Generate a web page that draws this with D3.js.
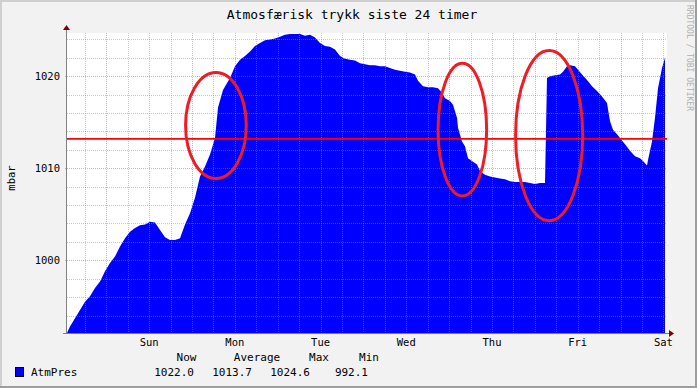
<!DOCTYPE html>
<html>
<head>
<meta charset="utf-8">
<script src="https://cdn.jsdelivr.net/npm/d3@7"></script>
<style>
  html, body { margin: 0; padding: 0; background: #f2f2f2; }
  svg { display: block; font-family: "DejaVu Sans Mono", monospace; }
</style>
</head>
<body>
<div id="chart"></div>
<script>
// Atmospheric pressure, one week, rrdtool-style area graph

// hours after the start of the graph (Sat 13:00)
const hours = [
  0, 0.84, 2.24, 3.64, 5.04, 6.44, 7.84, 9.24, 10.64, 12.04, 13.44, 14.84, 16.24, 17.64,
  19.04, 20.44, 21.84, 23.24, 24.64, 26.04, 27.44, 28.84, 30.24, 31.64, 33.04, 34.44,
  35.84, 37.24, 38.64, 40.04, 41.44, 42.28, 43.68, 45.64, 47.04, 48.44, 49.84, 51.24,
  52.64, 54.04, 55.44, 56.84, 58.24, 59.64, 61.04, 62.44, 63.84, 65.24, 66.64, 68.04,
  69.44, 70.84, 72.24, 73.64, 75.04, 76.44, 77.84, 79.24, 80.64, 82.04, 83.44, 84.84,
  86.24, 87.64, 89.04, 90.44, 91.84, 93.24, 94.64, 96.04, 97.44, 98.28, 99.68, 101.08,
  102.48, 103.88, 105.0, 105.84, 107.24, 108.08, 109.2, 109.48, 110.6, 111.44, 112.28,
  113.4, 114.8, 115.64, 117.04, 118.44, 119.84, 121.24, 122.64, 124.04, 125.44, 126.84,
  128.24, 129.64, 131.04, 132.44, 133.84, 134.4, 135.24, 136.64, 138.04, 138.88, 140.0,
  140.84, 142.24, 143.08, 144.2, 145.6, 147.0, 148.4, 149.8, 151.2, 152.04, 152.88,
  154.0, 154.84, 156.24, 157.64, 159.04, 160.44, 161.28, 162.4, 162.68, 163.8, 164.64,
  165.48, 166.6, 167.44
];

// AtmPres in mbar
const pressure = [
  992.1, 992.8, 993.7, 994.6, 995.5, 996.1, 997.0, 997.7, 998.8, 999.7, 1000.4, 1001.5, 1002.4, 1003.1,
  1003.5, 1003.8, 1003.9, 1004.2, 1004.1, 1003.3, 1002.5, 1002.2, 1002.2, 1002.4, 1003.9, 1005.1,
  1006.8, 1009.1, 1010.2, 1011.5, 1013.3, 1016.6, 1018.5, 1019.8, 1021.1, 1021.8, 1022.2, 1022.7,
  1023.3, 1023.6, 1023.9, 1024.0, 1024.1, 1024.3, 1024.5, 1024.6, 1024.6, 1024.6, 1024.4, 1024.5,
  1024.2, 1023.6, 1023.3, 1023.2, 1022.9, 1022.2, 1021.9, 1021.8, 1021.7, 1021.4, 1021.3, 1021.2,
  1021.2, 1021.1, 1021.1, 1020.9, 1020.7, 1020.6, 1020.5, 1020.4, 1020.2, 1019.5, 1018.9, 1018.8,
  1018.8, 1018.7, 1018.2, 1017.6, 1017.3, 1016.9, 1015.5, 1014.4, 1012.9, 1012.4, 1011.1,
  1010.8, 1010.4, 1009.7, 1009.3, 1009.1, 1009.0, 1008.9, 1008.8, 1008.6, 1008.5, 1008.5,
  1008.5, 1008.4, 1008.3, 1008.4, 1008.4, 1019.8, 1020.0, 1020.1, 1020.2, 1020.5, 1021.1,
  1021.2, 1021.1, 1020.7, 1020.2, 1019.6, 1018.9, 1018.4, 1017.8, 1017.1, 1015.1, 1014.2,
  1013.7, 1013.3, 1012.6, 1011.9, 1011.3, 1011.1, 1010.8, 1010.3, 1010.9, 1012.9, 1015.5,
  1018.7, 1020.9, 1022.0
];

const hruleValue = 1013.2;

const yMinorTicks = [994, 996, 998, 1002, 1004, 1006, 1008, 1012, 1014, 1016, 1018, 1022, 1024];
const yMajorTicks = [1000, 1010, 1020];

const legendHeaders = ['Now', 'Average', 'Max', 'Min'];
const legendValues = ['1022.0', '1013.7', '1024.6', '992.1'];

// hand-drawn highlight ellipses: centre hour, centre mbar, radius in hours, radius in mbar
const markHours = [41.7, 110.7, 135.0];
const markValues = [1014.65, 1014.2, 1013.55];
const markRadiusHours = [8.5, 6.8, 9.4];
const markRadiusValues = [5.75, 7.2, 9.25];

const width = 697;
const height = 388;
const plot = { left: 67, right: 667, top: 33, bottom: 333 };

const start = new Date(2021, 0, 2, 13, 0);
const end = d3.timeHour.offset(start, 168);
const atHour = h => new Date(start.getTime() + h * 3600e3);

const x = d3.scaleTime().domain([start, end]).range([plot.left, plot.right]);
const y = d3.scaleLinear().domain([992.1, 1024.7]).range([plot.bottom, plot.top]);

const svg = d3.select('#chart').append('svg')
  .attr('width', width)
  .attr('height', height);

// canvas + shade frame
svg.append('rect').attr('width', width).attr('height', height).attr('fill', '#f2f2f2');
svg.append('rect').attr('x', 0).attr('y', 0).attr('width', width).attr('height', 2).attr('fill', '#cfcfcf');
svg.append('rect').attr('x', 0).attr('y', 0).attr('width', 2).attr('height', height).attr('fill', '#cfcfcf');
svg.append('rect').attr('x', 0).attr('y', height - 2).attr('width', width).attr('height', 2).attr('fill', '#9e9e9e');
svg.append('rect').attr('x', width - 2).attr('y', 0).attr('width', 2).attr('height', height).attr('fill', '#9e9e9e');

// plot background
svg.append('rect')
  .attr('x', plot.left).attr('y', plot.top)
  .attr('width', plot.right - plot.left).attr('height', plot.bottom - plot.top)
  .attr('fill', '#ffffff');

// area
const data = hours.map((h, i) => ({ t: atHour(h), v: pressure[i] }));
const area = d3.area()
  .x(d => x(d.t))
  .y0(plot.bottom)
  .y1(d => y(d.v));

svg.append('path')
  .datum(data)
  .attr('fill', '#0000ff')
  .attr('d', area);

// grid on top of the data, like rrdtool
const grid = svg.append('g').attr('shape-rendering', 'crispEdges');
const minorCol = 'rgba(143,143,143,0.5)';
const majorCol = 'rgba(222,80,80,0.5)';

const xMinor = d3.timeHour.every(6).range(start, end).filter(d => d.getHours() !== 0);
const xMajor = d3.timeDay.range(start, end);

grid.selectAll('.xminor').data(xMinor).join('line')
  .attr('x1', d => Math.round(x(d)) + 0.5).attr('x2', d => Math.round(x(d)) + 0.5)
  .attr('y1', plot.top).attr('y2', plot.bottom)
  .attr('stroke', minorCol).attr('stroke-dasharray', '1,1');

grid.selectAll('.yminor').data(yMinorTicks).join('line')
  .attr('x1', plot.left).attr('x2', plot.right)
  .attr('y1', d => Math.round(y(d)) + 0.5).attr('y2', d => Math.round(y(d)) + 0.5)
  .attr('stroke', minorCol).attr('stroke-dasharray', '1,1');

grid.selectAll('.xmajor').data(xMajor).join('line')
  .attr('x1', d => Math.round(x(d)) + 0.5).attr('x2', d => Math.round(x(d)) + 0.5)
  .attr('y1', plot.top).attr('y2', plot.bottom + 2)
  .attr('stroke', majorCol).attr('stroke-dasharray', '1,1');

grid.selectAll('.ymajor').data(yMajorTicks).join('line')
  .attr('x1', plot.left - 2).attr('x2', plot.right)
  .attr('y1', d => Math.round(y(d)) + 0.5).attr('y2', d => Math.round(y(d)) + 0.5)
  .attr('stroke', majorCol).attr('stroke-dasharray', '1,1');

// hrule
svg.append('line')
  .attr('x1', plot.left).attr('x2', plot.right)
  .attr('y1', y(hruleValue)).attr('y2', y(hruleValue))
  .attr('stroke', '#ff0000').attr('stroke-width', 1.6);

// axes
const axisCol = '#808080';
svg.append('line')
  .attr('x1', plot.left - 0.5).attr('x2', plot.left - 0.5)
  .attr('y1', plot.bottom + 1).attr('y2', plot.top - 4)
  .attr('stroke', axisCol);
svg.append('line')
  .attr('x1', plot.left - 4).attr('x2', plot.right + 3)
  .attr('y1', plot.bottom + 0.5).attr('y2', plot.bottom + 0.5)
  .attr('stroke', axisCol);
svg.append('path')
  .attr('d', `M${plot.left - 4},${plot.top - 3}L${plot.left + 3},${plot.top - 3}L${plot.left - 0.5},${plot.top - 8}Z`)
  .attr('fill', '#7f0000');
svg.append('path')
  .attr('d', `M${plot.right + 2},${plot.bottom - 3}L${plot.right + 2},${plot.bottom + 4}L${plot.right + 7},${plot.bottom + 0.5}Z`)
  .attr('fill', '#7f0000');

// y tick labels
svg.selectAll('.ylab').data(yMajorTicks).join('text')
  .attr('x', plot.left - 7)
  .attr('y', d => y(d) + 4)
  .attr('text-anchor', 'end')
  .attr('font-size', '10.5px')
  .attr('fill', '#000')
  .text(d => d);

// x tick labels at noon
const noons = d3.timeDay.range(d3.timeDay.floor(start), end)
  .map(d => d3.timeHour.offset(d, 12))
  .filter(d => d >= start && d <= end);
svg.selectAll('.xlab').data(noons).join('text')
  .attr('x', d => x(d))
  .attr('y', plot.bottom + 13)
  .attr('text-anchor', 'middle')
  .attr('font-size', '10.5px')
  .attr('fill', '#000')
  .text(d3.timeFormat('%a'));

// unit label
svg.append('text')
  .attr('transform', `translate(15,${178}) rotate(-90)`)
  .attr('text-anchor', 'middle')
  .attr('font-size', '10.5px')
  .attr('fill', '#000')
  .text('mbar');

// title
svg.append('text')
  .attr('x', 352).attr('y', 19)
  .attr('text-anchor', 'middle')
  .attr('font-size', '13px')
  .attr('fill', '#000')
  .text('Atmosfærisk trykk siste 24 timer');

// watermark
svg.append('text')
  .attr('transform', 'translate(687,5) rotate(90)')
  .attr('font-size', '8px')
  .attr('fill', '#b0b0b0')
  .text('RRDTOOL / TOBI OETIKER');

// legend
const headX = [186.5, 257, 319, 369];
svg.selectAll('.lhead').data(legendHeaders).join('text')
  .attr('x', (d, i) => headX[i])
  .attr('y', 361)
  .attr('text-anchor', 'middle')
  .attr('font-size', '11px')
  .attr('fill', '#000')
  .text(d => d);

const valEnd = [194, 252, 310, 368];
svg.selectAll('.lval').data(legendValues).join('text')
  .attr('x', (d, i) => valEnd[i])
  .attr('y', 376)
  .attr('text-anchor', 'end')
  .attr('font-size', '11px')
  .attr('fill', '#000')
  .text(d => d);

svg.append('rect')
  .attr('x', 15.5).attr('y', 367.5).attr('width', 8).attr('height', 9)
  .attr('fill', '#0000ff').attr('stroke', '#000');
svg.append('text')
  .attr('x', 31).attr('y', 376)
  .attr('font-size', '11px')
  .attr('fill', '#000')
  .text('AtmPres');

// highlight ellipses
svg.selectAll('.mark').data(markHours).join('ellipse')
  .attr('cx', (d, i) => x(atHour(d)))
  .attr('cy', (d, i) => y(markValues[i]))
  .attr('rx', (d, i) => x(atHour(d + markRadiusHours[i])) - x(atHour(d)))
  .attr('ry', (d, i) => y(markValues[i] - markRadiusValues[i]) - y(markValues[i]))
  .attr('fill', 'none')
  .attr('stroke', '#ee1c24')
  .attr('stroke-width', 3);
</script>
</body>
</html>
